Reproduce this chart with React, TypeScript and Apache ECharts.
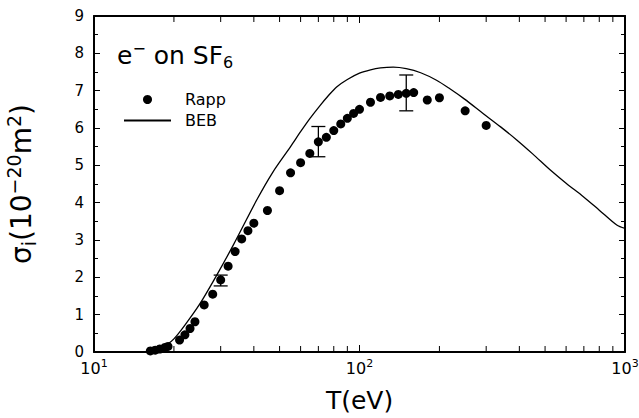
import React, { useEffect, useRef } from "react";
import * as echarts from "echarts";

// Rapp experimental points
const rappT = [16.3, 17, 17.7, 18.5, 19, 21, 22, 23, 24, 26, 28, 30, 32, 34, 36, 38, 40, 45, 50, 55, 60, 65, 70, 75, 80, 85, 90, 95, 100, 110, 120, 130, 140, 150, 160, 180, 200, 250, 300];
const rappV = [0.03, 0.05, 0.08, 0.12, 0.15, 0.32, 0.46, 0.63, 0.81, 1.26, 1.55, 1.93, 2.3, 2.69, 3.03, 3.25, 3.45, 3.79, 4.32, 4.8, 5.07, 5.32, 5.63, 5.75, 5.93, 6.11, 6.26, 6.39, 6.5, 6.69, 6.82, 6.86, 6.9, 6.93, 6.95, 6.75, 6.81, 6.46, 6.07];

// error bars
const errT = [30, 70, 150];
const errLo = [1.77, 5.23, 6.46];
const errHi = [2.06, 6.04, 7.42];

// BEB curve
const bebT = [15.7, 16.5, 17, 18, 19, 20, 22, 25, 29, 33.5, 41, 47, 55, 60, 65, 71, 76, 82, 90, 100, 110, 120, 134, 150, 170, 195, 219, 248, 292, 340, 391, 450, 522, 600, 697, 800, 931, 1000];
const bebV = [0, 0.03, 0.06, 0.13, 0.22, 0.35, 0.72, 1.28, 2.06, 2.87, 4.07, 4.8, 5.5, 5.9, 6.25, 6.6, 6.85, 7.1, 7.3, 7.47, 7.56, 7.61, 7.63, 7.59, 7.48, 7.28, 7.05, 6.78, 6.39, 6.03, 5.68, 5.3, 4.88, 4.52, 4.16, 3.8, 3.4, 3.31];

// axis settings
const xMin = 10;
const xMax = 1000;
const yMin = 0;
const yMax = 9;
const xTickLabels: Record<number, string> = { 10: "{b|10}{s|1}", 100: "{b|10}{s|2}", 1000: "{b|10}{s|3}" };
const minorT = [20, 30, 40, 50, 60, 70, 80, 90, 200, 300, 400, 500, 600, 700, 800, 900];

const FONT = "'DejaVu Sans', 'Liberation Sans', Arial, sans-serif";

export default function App() {
  const ref = useRef<HTMLDivElement>(null);
  useEffect(() => {
    if (!ref.current) return;
    const chart = echarts.init(ref.current, undefined, { renderer: "svg" });
    const axisLine = { show: true, onZero: false, lineStyle: { color: "#000", width: 2 } };
    const option: any = {
      animation: false,
      backgroundColor: "#fff",
      textStyle: { fontFamily: FONT },
      grid: { left: 94, right: 14, top: 16, bottom: 66, containLabel: false, outerBoundsMode: "none" },
      legend: {
        left: 123,
        top: 91,
        padding: 0,
        orient: "vertical",
        itemWidth: 47,
        itemHeight: 9,
        itemGap: 4,
        data: [
          { name: "Rapp", icon: "circle" },
          { name: "BEB", itemStyle: { opacity: 0 } },
        ],
        textStyle: { fontFamily: FONT, fontSize: 16, color: "#000", lineHeight: 17, padding: [0, 0, 0, 9] },
      },
      graphic: [
        {
          type: "text",
          left: 117,
          top: 40,
          style: {
            text: "{b|e}{sup|−}{b| on SF}{sub|6}",
            fill: "#000",
            rich: {
              b: { fontFamily: FONT, fontSize: 25, lineHeight: 30, fill: "#000" },
              sup: { fontFamily: FONT, fontSize: 16, lineHeight: 12, verticalAlign: "top", fill: "#000" },
              sub: { fontFamily: FONT, fontSize: 16, lineHeight: 14, verticalAlign: "bottom", fill: "#000" },
            },
          },
        },
      ],
      xAxis: [
        {
          type: "log",
          logBase: 10,
          min: xMin,
          max: xMax,
          name: "T(eV)",
          nameLocation: "middle",
          nameGap: 36,
          nameTextStyle: { fontFamily: FONT, fontSize: 25, color: "#000" },
          axisLine,
          axisTick: { show: true, inside: true, length: 7, lineStyle: { color: "#000", width: 1 } },
          axisLabel: {
            color: "#000",
            margin: 6,
            formatter: (v: number) => xTickLabels[Math.round(v)] ?? "",
            rich: {
              b: { fontFamily: FONT, fontSize: 16, lineHeight: 20, color: "#000" },
              s: { fontFamily: FONT, fontSize: 11, lineHeight: 11, verticalAlign: "top", color: "#000" },
            },
          },
          splitLine: { show: false },
        },
        {
          type: "log",
          logBase: 10,
          position: "top",
          min: xMin,
          max: xMax,
          axisLine,
          axisTick: { show: true, inside: true, length: 7, lineStyle: { color: "#000", width: 1 } },
          axisLabel: { show: false },
          splitLine: { show: false },
        },
      ],
      yAxis: [
        {
          type: "value",
          min: yMin,
          max: yMax,
          interval: 1,
          name: "{b|σ}{sub|i}{b|(10}{sup|−20}{b|m}{sup|2}{b|)}",
          nameLocation: "middle",
          nameRotate: 90,
          nameGap: 56,
          nameTextStyle: {
            color: "#000",
            rich: {
              b: { fontFamily: FONT, fontSize: 28, lineHeight: 34, color: "#000" },
              sup: { fontFamily: FONT, fontSize: 19, lineHeight: 15, verticalAlign: "top", color: "#000" },
              sub: { fontFamily: FONT, fontSize: 19, lineHeight: 17, verticalAlign: "bottom", color: "#000" },
            },
          },
          axisLine,
          axisTick: { show: true, inside: true, length: 6, lineStyle: { color: "#000", width: 1 } },
          minorTick: { show: true, splitNumber: 2, length: 4, lineStyle: { color: "#000", width: 1 } },
          axisLabel: { fontFamily: FONT, fontSize: 15, color: "#000", margin: 10 },
          splitLine: { show: false },
          minorSplitLine: { show: false },
        },
        {
          type: "value",
          position: "right",
          min: yMin,
          max: yMax,
          interval: 1,
          axisLine,
          axisTick: { show: true, inside: true, length: 6, lineStyle: { color: "#000", width: 1 } },
          minorTick: { show: true, splitNumber: 2, length: 4, lineStyle: { color: "#000", width: 1 } },
          axisLabel: { show: false },
          splitLine: { show: false },
          minorSplitLine: { show: false },
        },
      ],
      series: [
        {
          name: "BEB",
          type: "line",
          data: bebT.map((t, i) => [t, bebV[i]]),
          showSymbol: false,
          symbol: "none",
          smooth: 0.3,
          lineStyle: { color: "#000", width: 1.3 },
          itemStyle: { color: "#000" },
          z: 3,
        },
        {
          name: "Rapp",
          type: "scatter",
          data: rappT.map((t, i) => [t, rappV[i]]),
          symbol: "circle",
          symbolSize: 9,
          itemStyle: { color: "#000", opacity: 1 },
          z: 4,
        },
        {
          name: "err",
          type: "custom",
          data: errT.map((t, i) => [t, errLo[i], errHi[i]]),
          encode: { x: 0, y: [1, 2] },
          renderItem: (params: any, api: any) => {
            const x = api.value(0);
            const lo = api.coord([x, api.value(1)]);
            const hi = api.coord([x, api.value(2)]);
            const w = 7;
            const st = { stroke: "#000", lineWidth: 1.3 };
            return {
              type: "group",
              children: [
                { type: "line", shape: { x1: lo[0], y1: lo[1], x2: hi[0], y2: hi[1] }, style: st },
                { type: "line", shape: { x1: lo[0] - w, y1: lo[1], x2: lo[0] + w, y2: lo[1] }, style: st },
                { type: "line", shape: { x1: hi[0] - w, y1: hi[1], x2: hi[0] + w, y2: hi[1] }, style: st },
              ],
            };
          },
          z: 5,
        },
        {
          name: "minorTicks",
          type: "custom",
          data: minorT.map((t) => [t, yMin]),
          encode: { x: 0, y: 1 },
          renderItem: (params: any, api: any) => {
            const x = api.value(0);
            const b = api.coord([x, yMin]);
            const t = api.coord([x, yMax]);
            const st = { stroke: "#000", lineWidth: 1 };
            return {
              type: "group",
              children: [
                { type: "line", shape: { x1: b[0], y1: b[1], x2: b[0], y2: b[1] - 6 }, style: st },
                { type: "line", shape: { x1: t[0], y1: t[1], x2: t[0], y2: t[1] + 6 }, style: st },
              ],
            };
          },
          silent: true,
          z: 6,
        },
      ],
    };
    chart.setOption(option);
    return () => chart.dispose();
  }, []);
  return (
    <div
      ref={ref}
      style={{ position: "fixed", left: 0, top: 0, width: 639, height: 418, background: "#fff" }}
    />
  );
}
